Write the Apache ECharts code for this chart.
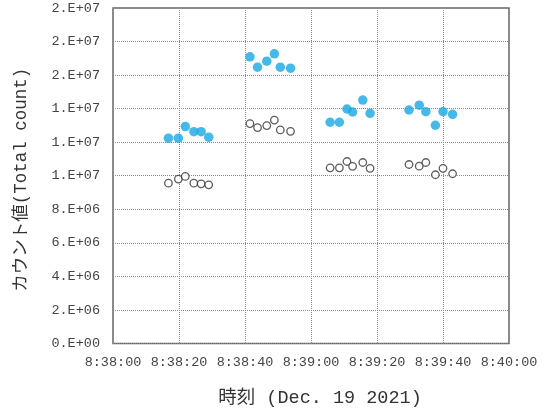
<!DOCTYPE html>
<html>
<head>
<meta charset="utf-8">
<script src="https://cdn.jsdelivr.net/npm/echarts@6/dist/echarts.min.js"></script>
<style>
  html, body { margin: 0; padding: 0; background: #fff; }
  #chart { width: 551px; height: 412px; }
</style>
</head>
<body>
<div id="chart"></div>
<script>
// Sample times (Dec. 19 2021)
const sampleTimes = [
  "8:38:16.8", "8:38:19.8", "8:38:21.9", "8:38:24.5", "8:38:26.7", "8:38:29.0",
  "8:38:41.5", "8:38:43.8", "8:38:46.6", "8:38:48.9", "8:38:50.7", "8:38:53.8",
  "8:39:05.8", "8:39:08.6", "8:39:10.9", "8:39:12.6", "8:39:15.7", "8:39:17.9",
  "8:39:29.7", "8:39:32.8", "8:39:34.8", "8:39:37.7", "8:39:40.0", "8:39:42.9"
];

// Total counts, filled markers
const countsFilled = [
  1.224e7, 1.224e7, 1.293e7, 1.263e7, 1.263e7, 1.230e7,
  1.709e7, 1.647e7, 1.683e7, 1.727e7, 1.647e7, 1.641e7,
  1.319e7, 1.319e7, 1.398e7, 1.380e7, 1.451e7, 1.372e7,
  1.392e7, 1.421e7, 1.382e7, 1.301e7, 1.382e7, 1.366e7
];

// Total counts, open markers
const countsOpen = [
  9.56e6, 9.80e6, 9.96e6, 9.56e6, 9.52e6, 9.46e6,
  1.311e7, 1.287e7, 1.299e7, 1.332e7, 1.273e7, 1.265e7,
  1.047e7, 1.047e7, 1.085e7, 1.056e7, 1.079e7, 1.044e7,
  1.067e7, 1.057e7, 1.079e7, 1.006e7, 1.044e7, 1.012e7
];

// Axis range: 8:38:00 .. 8:40:00 every 20 s; 0 .. 2e7 every 2e6
const timeStart = "8:38:00";
const timeEnd = "8:40:00";
const timeStep = 20;
const countMax = 2e7;
const countStep = 2e6;

function toSec(t) {
  const p = t.split(":").map(Number);
  return p[0] * 3600 + p[1] * 60 + p[2];
}
const t0 = toSec(timeStart);
function fmtTime(s) {
  const tot = Math.round(t0 + s);
  const h = Math.floor(tot / 3600);
  const m = Math.floor((tot % 3600) / 60);
  const sec = tot % 60;
  return h + ":" + String(m).padStart(2, "0") + ":" + String(sec).padStart(2, "0");
}
// Spreadsheet-style "0.E+00" number format
function fmtSci(v) {
  if (v === 0) return "0.E+00";
  let e = Math.floor(Math.log10(Math.abs(v)));
  let m = Math.round(v / Math.pow(10, e));
  if (m >= 10) { m = 1; e += 1; }
  return m + ".E" + (e < 0 ? "-" : "+") + String(Math.abs(e)).padStart(2, "0");
}

const mono = "'Liberation Mono', 'DejaVu Sans Mono', 'Noto Sans CJK JP', monospace";

const chart = echarts.init(document.getElementById("chart"), null, { renderer: "canvas" });
chart.setOption({
  animation: false,
  backgroundColor: "#ffffff",
  grid: {
    left: 113, right: 42, top: 8, bottom: 67,
    show: true, borderColor: "#666", borderWidth: 1.5, backgroundColor: "transparent"
  },
  xAxis: {
    type: "value",
    min: 0,
    max: toSec(timeEnd) - t0,
    interval: timeStep,
    axisLine: { show: false },
    axisTick: { show: false },
    splitLine: { show: true, lineStyle: { color: "#8a8a8a", type: [1, 1], width: 1 } },
    axisLabel: {
      formatter: fmtTime, color: "#444", fontFamily: mono, fontSize: 13.5, margin: 12,
      showMinLabel: true, showMaxLabel: true
    },
    name: "時刻 (Dec. 19 2021)",
    nameLocation: "middle",
    nameGap: 45,
    nameTextStyle: { color: "#333", fontFamily: mono, fontSize: 18.5, padding: [0, 0, 0, 18] }
  },
  yAxis: {
    type: "value",
    min: 0,
    max: countMax,
    interval: countStep,
    axisLine: { show: false },
    axisTick: { show: false },
    splitLine: { show: true, lineStyle: { color: "#8a8a8a", type: [1, 1], width: 1 } },
    axisLabel: {
      formatter: fmtSci, color: "#444", fontFamily: mono, fontSize: 13.5, margin: 13
    },
    name: "カウント値(Total count)",
    nameLocation: "middle",
    nameGap: 83,
    nameTextStyle: { color: "#333", fontFamily: mono, fontSize: 17.5, padding: [0, 8, 0, 0] }
  },
  series: [
    {
      name: "filled",
      type: "scatter",
      symbol: "circle",
      symbolSize: 9.5,
      itemStyle: { color: "#19a8e2", borderWidth: 0 },
      data: sampleTimes.map((t, i) => [toSec(t) - t0, countsFilled[i]])
    },
    {
      name: "open",
      type: "scatter",
      symbol: "circle",
      symbolSize: 7.5,
      itemStyle: { color: "#ffffff", borderColor: "#333", borderWidth: 1.3 },
      data: sampleTimes.map((t, i) => [toSec(t) - t0, countsOpen[i]])
    }
  ]
});
</script>
</body>
</html>
